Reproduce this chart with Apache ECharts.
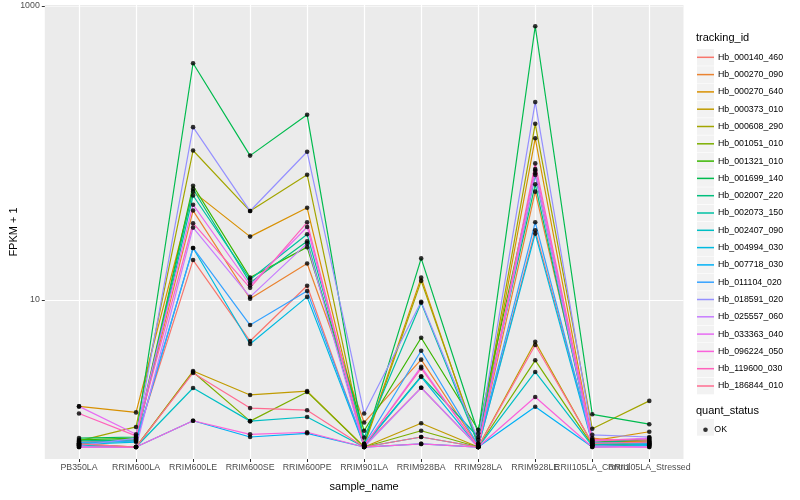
<!DOCTYPE html>
<html><head><meta charset="utf-8">
<script src="https://cdn.jsdelivr.net/npm/echarts@6/dist/echarts.min.js"></script>
<style>html,body{margin:0;padding:0;background:#fff}#c{width:800px;height:500px}</style>
</head><body><div id="c"></div>
<script>
const categories = ['PB350LA','RRIM600LA','RRIM600LE','RRIM600SE','RRIM600PE','RRIM901LA','RRIM928BA','RRIM928LA','RRIM928LE','RRII105LA_Control','RRII105LA_Stressed'];
const trackingIds = ['Hb_000140_460','Hb_000270_090','Hb_000270_640','Hb_000373_010','Hb_000608_290','Hb_001051_010','Hb_001321_010','Hb_001699_140','Hb_002007_220','Hb_002073_150','Hb_002407_090','Hb_004994_030','Hb_007718_030','Hb_011104_020','Hb_018591_020','Hb_025557_060','Hb_033363_040','Hb_096224_050','Hb_119600_030','Hb_186844_010'];
const colors = ['#F8766D','#EA8331','#D89000','#C09B00','#A3A500','#7CAE00','#39B600','#00BB4E','#00BF7D','#00C1A3','#00BFC4','#00BAE0','#00B0F6','#35A2FF','#9590FF','#C77CFF','#E76BF3','#FA62DB','#FF62BC','#FF6C91'];
const yTickValues = [10, 1000];
const quantStatus = ['OK'];

// FPKM + 1 values, one array per tracking_id, in category order
const hb_000140_460 = [1.08, 1.12, 18.7, 5.26, 12.5, 1.02, 2.53, 1.0, 29.8, 1.12, 1.08];
const hb_000270_090 = [1.05, 1.15, 40.6, 10.2, 17.7, 1.47, 3.93, 1.02, 54.6, 1.15, 1.05];
const hb_000270_640 = [1.89, 1.72, 54.6, 27.0, 42.4, 1.05, 14.2, 1.02, 126, 1.10, 1.27];
const hb_000373_010 = [1.05, 1.0, 3.29, 2.26, 2.40, 1.0, 1.45, 1.0, 5.20, 1.05, 1.10];
const hb_000608_290 = [1.10, 1.37, 104, 40.3, 71.2, 1.02, 13.5, 1.06, 158, 1.33, 2.06];
const hb_001051_010 = [1.02, 1.0, 3.24, 1.50, 2.37, 1.0, 1.29, 1.0, 3.89, 1.03, 1.05];
const hb_001321_010 = [1.12, 1.15, 59.9, 14.2, 22.9, 1.29, 5.54, 1.31, 75.9, 1.08, 1.12];
const hb_001699_140 = [1.15, 1.17, 408, 96, 182, 1.05, 19.2, 1.24, 728, 1.67, 1.43];
const hb_002007_220 = [1.10, 1.12, 56.9, 13.1, 25.1, 1.03, 3.03, 1.17, 61.2, 1.05, 1.15];
const hb_002073_150 = [1.06, 1.10, 51.4, 13.8, 28.0, 1.16, 9.59, 1.05, 70.8, 1.03, 1.08];
const hb_002407_090 = [1.03, 1.0, 2.52, 1.50, 1.60, 1.0, 1.17, 1.0, 3.24, 1.02, 1.03];
const hb_004994_030 = [1.04, 1.08, 22.6, 5.02, 10.5, 1.02, 3.0, 1.0, 28.3, 1.06, 1.04];
const hb_007718_030 = [1.0, 1.0, 1.51, 1.17, 1.24, 1.0, 1.05, 1.0, 1.88, 1.0, 1.02];
const hb_011104_020 = [1.07, 1.10, 22.6, 6.76, 11.5, 1.04, 4.52, 1.03, 33.8, 1.08, 1.06];
const hb_018591_020 = [1.02, 1.15, 150, 40.3, 102, 1.69, 9.73, 1.12, 222, 1.21, 1.17];
const hb_025557_060 = [1.0, 1.0, 31.1, 10.5, 24.3, 1.0, 2.53, 1.0, 72.8, 1.02, 1.0];
const hb_033363_040 = [1.89, 1.22, 44.5, 12.6, 31.4, 1.02, 3.52, 1.0, 77.8, 1.10, 1.15];
const hb_096224_050 = [1.0, 1.0, 1.51, 1.22, 1.26, 1.0, 1.05, 1.0, 2.19, 1.0, 1.0];
const hb_119600_030 = [1.69, 1.19, 33.3, 12.1, 33.8, 1.02, 3.43, 1.0, 85, 1.12, 1.12];
const hb_186844_010 = [1.05, 1.0, 3.19, 1.84, 1.78, 1.0, 1.17, 1.0, 4.94, 1.06, 1.08];

const seriesValues = [hb_000140_460, hb_000270_090, hb_000270_640, hb_000373_010, hb_000608_290,
  hb_001051_010, hb_001321_010, hb_001699_140, hb_002007_220, hb_002073_150, hb_002407_090,
  hb_004994_030, hb_007718_030, hb_011104_020, hb_018591_020, hb_025557_060, hb_033363_040,
  hb_096224_050, hb_119600_030, hb_186844_010];

const FONT = 'Liberation Sans, Arial, Helvetica, sans-serif';
const Y_MIN = 0.829, Y_MAX = 1016;
const PANEL = {left: 44.8, right: 116.5, top: 5, bottom: 41};
const DATA = {left: 50.5, right: 122.2, top: 5, bottom: 41};
const LEG_X = 697, KEY = 17, KEY_STEP = 17.3, LEG_TOP = 57.3 - KEY_STEP / 2;

const lineSeries = trackingIds.map((id, i) => ({
  name: id, type: 'line', xAxisIndex: 1, yAxisIndex: 1,
  data: seriesValues[i], symbol: 'none', silent: true,
  lineStyle: {color: colors[i], width: 1.2}, itemStyle: {color: colors[i]},
  z: 2
}));
const points = [];
seriesValues.forEach(arr => arr.forEach((v, j) => points.push([j, v])));

const keyRects = trackingIds.map((id, i) => ({
  type: 'rect', left: LEG_X, top: LEG_TOP + i * KEY_STEP + 0.3,
  shape: {width: KEY, height: KEY_STEP - 0.6}, style: {fill: '#F2F2F2'}, z: -10, silent: true
}));
keyRects.push({type: 'rect', left: LEG_X, top: 419, shape: {width: KEY, height: KEY_STEP - 0.6}, style: {fill: '#F2F2F2'}, z: -10, silent: true});

const chart = echarts.init(document.getElementById('c'), null, {renderer: 'canvas'});
chart.setOption({
  animation: false,
  backgroundColor: '#fff',
  textStyle: {fontFamily: FONT},
  title: [
    {text: 'tracking_id', left: LEG_X - 1, top: 32, padding: 0, textStyle: {fontSize: 11, fontWeight: 'normal', color: '#000', fontFamily: FONT}},
    {text: 'quant_status', left: LEG_X - 1, top: 405, padding: 0, textStyle: {fontSize: 11, fontWeight: 'normal', color: '#000', fontFamily: FONT}}
  ],
  graphic: keyRects,
  legend: [
    {data: trackingIds, orient: 'vertical', left: LEG_X, top: LEG_TOP, padding: 0,
     icon: 'rect', itemWidth: KEY, itemHeight: 1.5, itemGap: 0, selectedMode: false,
     textStyle: {fontSize: 8.8, color: '#000', fontFamily: FONT, lineHeight: KEY_STEP, height: KEY_STEP, padding: [0, 0, 0, -1]}},
    {data: quantStatus, orient: 'vertical', left: LEG_X + 6.2, top: 425.2, padding: 0,
     itemWidth: 4.6, itemHeight: 4.6, selectedMode: false, icon: 'circle',
     textStyle: {fontSize: 8.8, color: '#000', fontFamily: FONT, padding: [0, 0, 0, 1.5]}}
  ],
  grid: [
    Object.assign({show: true, backgroundColor: '#EBEBEB', borderWidth: 0, containLabel: false, outerBoundsMode: 'none'}, PANEL),
    Object.assign({show: false, containLabel: false, outerBoundsMode: 'none'}, DATA)
  ],
  xAxis: [
    {type: 'value', gridIndex: 0, show: false, min: 0, max: 1},
    {type: 'category', gridIndex: 1, data: categories, boundaryGap: true,
     name: 'sample_name', nameLocation: 'middle', nameGap: 22, nameMoveOverlap: false,
     nameTextStyle: {fontSize: 11, color: '#000', fontFamily: FONT},
     axisLine: {show: false},
     axisTick: {show: true, alignWithLabel: true, length: 3, lineStyle: {color: '#333', width: 1}},
     splitLine: {show: true, alignWithLabel: true, lineStyle: {color: '#FFFFFF', width: 1.2}},
     axisLabel: {interval: 0, hideOverlap: false, fontSize: 8.8, color: '#4D4D4D', margin: 4, fontFamily: FONT}}
  ],
  yAxis: [
    {type: 'log', logBase: 10, gridIndex: 0, min: Y_MIN, max: Y_MAX,
     name: 'FPKM + 1', nameLocation: 'middle', nameGap: 25, nameRotate: 90, nameMoveOverlap: false,
     nameTextStyle: {fontSize: 11, color: '#000', fontFamily: FONT},
     axisLine: {show: false},
     axisTick: {show: true, length: 3, customValues: yTickValues, lineStyle: {color: '#333', width: 1}},
     axisLabel: {customValues: yTickValues, fontSize: 8.8, color: '#4D4D4D', margin: 5, fontFamily: FONT,
       formatter: v => String(Math.round(v))},
     splitLine: {show: true, lineStyle: {color: ['#FFFFFF', '#F6F6F6'], width: 1.2}},
     minorSplitLine: {show: false}},
    {type: 'log', logBase: 10, gridIndex: 1, min: Y_MIN, max: Y_MAX, show: false,
     splitLine: {show: false}}
  ],
  series: lineSeries.concat([{
    name: 'OK', type: 'scatter', xAxisIndex: 1, yAxisIndex: 1, data: points,
    symbol: 'circle', symbolSize: 4.6, itemStyle: {color: '#000'}, silent: true, z: 5
  }])
});
</script></body></html>
